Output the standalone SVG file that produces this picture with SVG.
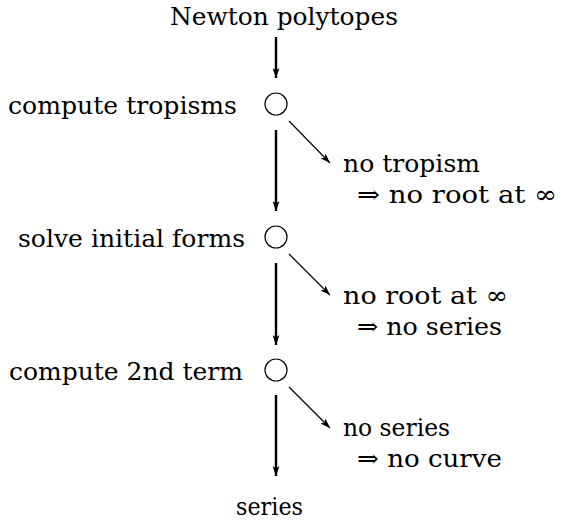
<svg xmlns="http://www.w3.org/2000/svg" width="562" height="525" viewBox="0 0 562 525">
<style>
text{font-family:"DejaVu Serif",serif;font-size:25px;fill:#000}
.thick{stroke:#000;stroke-width:2.4;fill:none}
.thin{stroke:#000;stroke-width:1.2;fill:none}
.node circle{fill:none;stroke:#000;stroke-width:1.2}
</style>
<defs>
<marker id="ah" viewBox="0 0 10 7" refX="10" refY="3.5" markerWidth="10" markerHeight="7" markerUnits="userSpaceOnUse" orient="auto">
<path d="M0,0 L10,3.5 L0,7 L2.5,3.5 Z" fill="#000"/>
</marker>
<marker id="ahs" viewBox="0 0 10 7" refX="10" refY="3.5" markerWidth="10" markerHeight="7" markerUnits="userSpaceOnUse" orient="auto">
<path d="M0,0 L10,3.5 L0,7 L2.5,3.5 Z" fill="#000"/>
</marker>
</defs>
<g id="start"><text x="170" y="25" textLength="228" lengthAdjust="spacingAndGlyphs">Newton polytopes</text></g>
<g id="n1" class="node"><text x="8" y="114" textLength="229" lengthAdjust="spacingAndGlyphs">compute tropisms</text><circle cx="276" cy="104" r="11"/></g>
<g id="n2" class="node"><text x="18" y="247" textLength="227" lengthAdjust="spacingAndGlyphs">solve initial forms</text><circle cx="276" cy="237" r="11"/></g>
<g id="n3" class="node"><text x="9" y="380" textLength="234" lengthAdjust="spacingAndGlyphs">compute 2nd term</text><circle cx="276" cy="370" r="11"/></g>
<g id="end"><text x="236" y="515" textLength="67" lengthAdjust="spacingAndGlyphs">series</text></g>
<g id="f1"><text x="343" y="172" textLength="137" lengthAdjust="spacingAndGlyphs">no tropism</text><text x="357" y="203" textLength="200" lengthAdjust="spacingAndGlyphs">⇒ no root at ∞</text></g>
<g id="f2"><text x="343" y="304" textLength="165" lengthAdjust="spacingAndGlyphs">no root at ∞</text><text x="357" y="335" textLength="145" lengthAdjust="spacingAndGlyphs">⇒ no series</text></g>
<g id="f3"><text x="343" y="436" textLength="107" lengthAdjust="spacingAndGlyphs">no series</text><text x="357" y="467" textLength="145" lengthAdjust="spacingAndGlyphs">⇒ no curve</text></g>
<g id="connectors">
<line class="thick" x1="276" y1="37" x2="276" y2="78" marker-end="url(#ah)"/>
<line class="thick" x1="276" y1="130" x2="276" y2="211" marker-end="url(#ah)"/>
<line class="thick" x1="276" y1="263" x2="276" y2="345" marker-end="url(#ah)"/>
<line class="thick" x1="276" y1="395" x2="276" y2="476" marker-end="url(#ah)"/>
<line class="thin" x1="289" y1="121" x2="330" y2="163" marker-end="url(#ahs)"/>
<line class="thin" x1="289" y1="254" x2="330" y2="295" marker-end="url(#ahs)"/>
<line class="thin" x1="289" y1="387" x2="330" y2="428" marker-end="url(#ahs)"/>
</g>
</svg>
